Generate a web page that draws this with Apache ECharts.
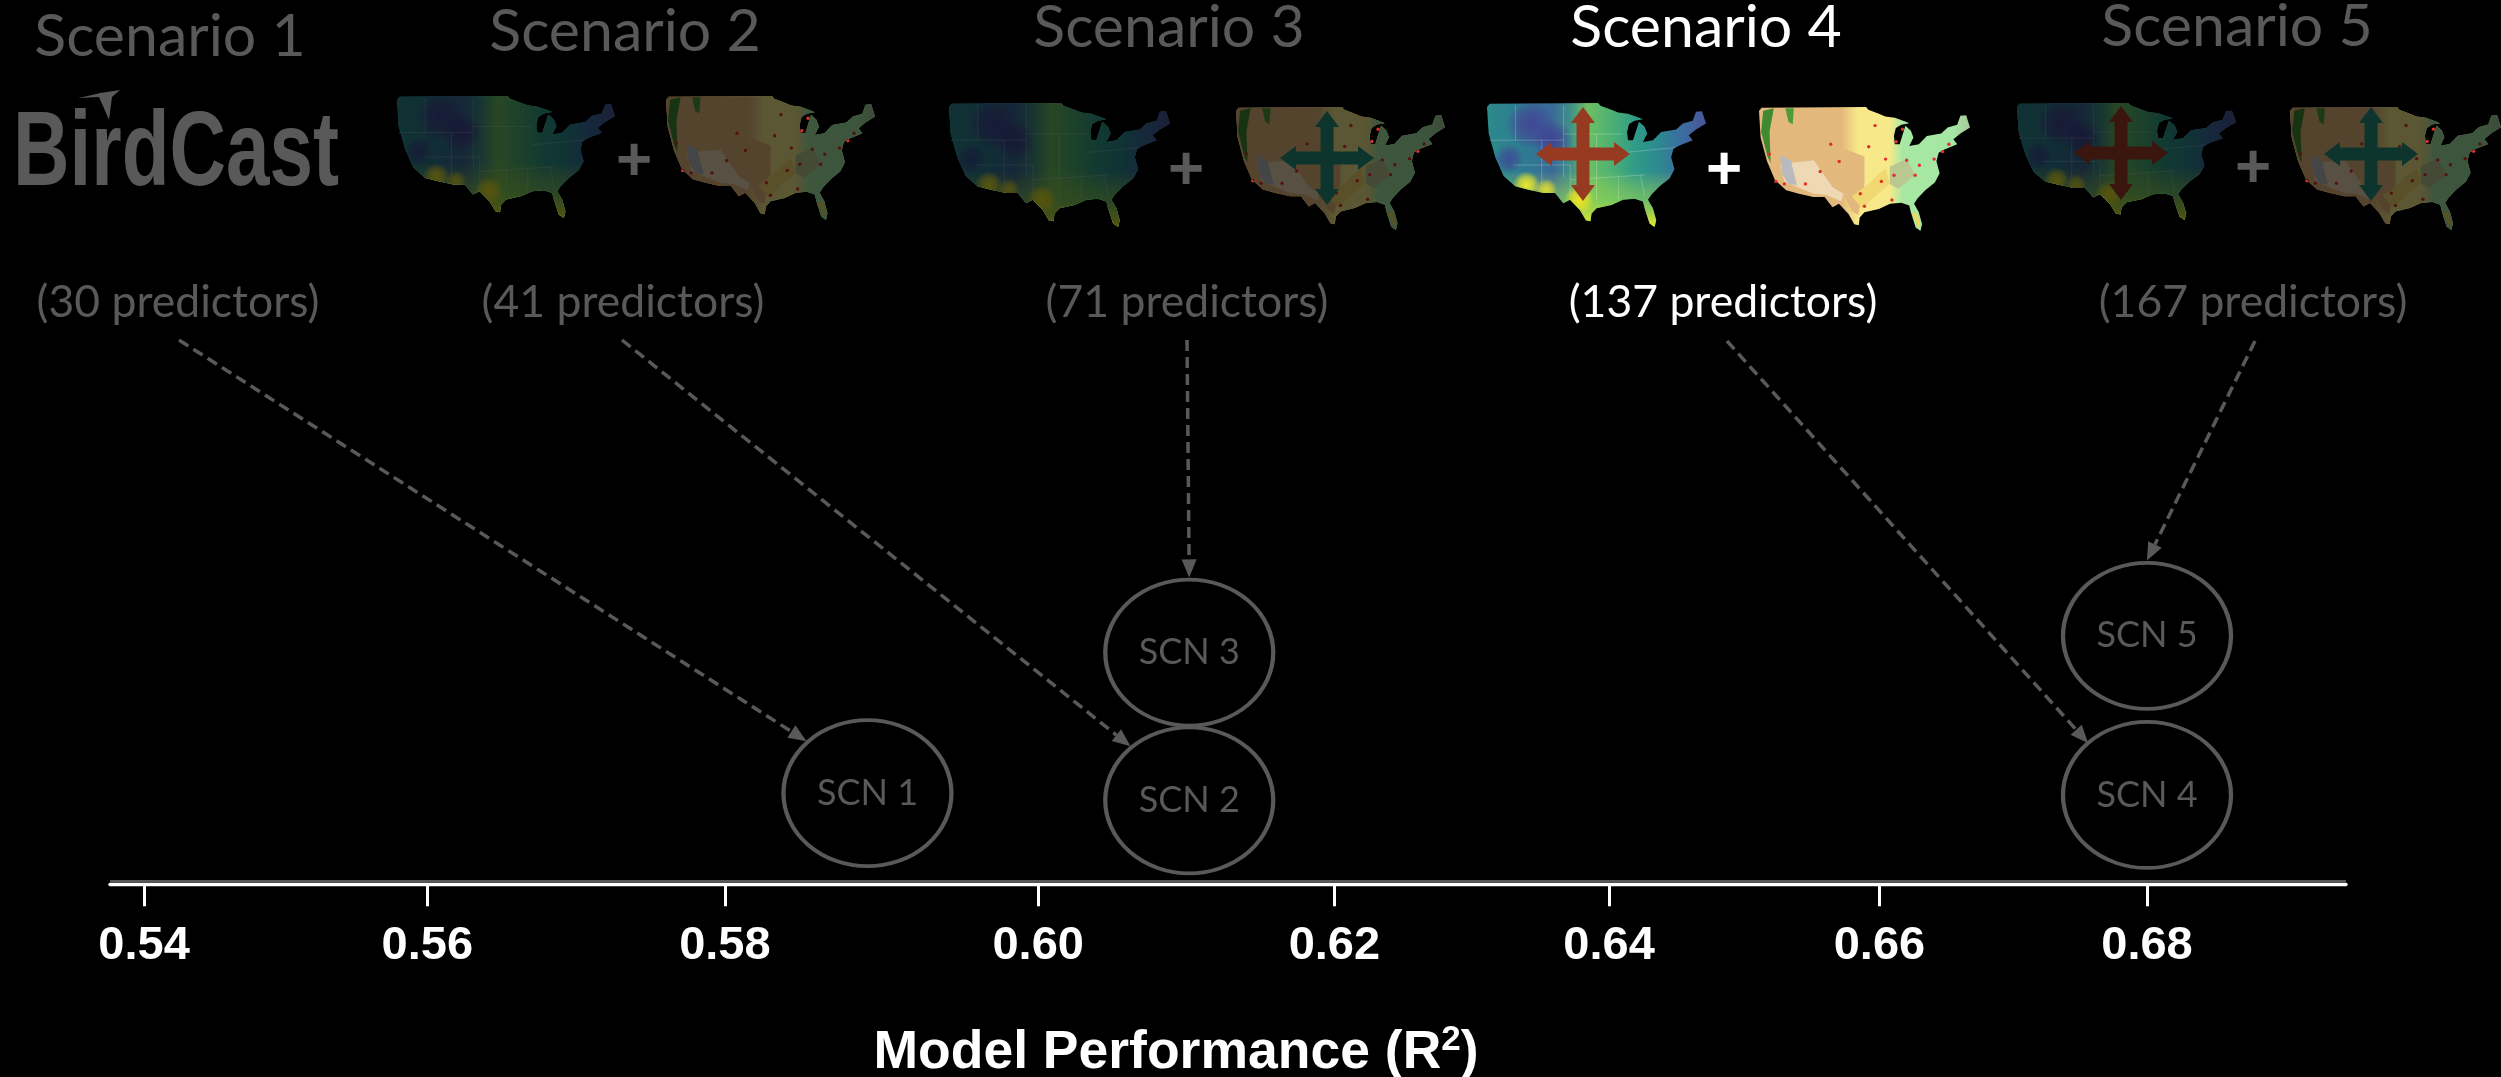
<!DOCTYPE html>
<html><head><meta charset="utf-8">
<style>html,body{margin:0;padding:0;background:#000}#c{width:2501px;height:1077px}</style>
<script src="https://cdn.jsdelivr.net/npm/echarts@6/dist/echarts.min.js"></script>
</head><body><div id="c"></div>
<script>
// ---------- data ----------
const tickValues = [0.54,0.56,0.58,0.60,0.62,0.64,0.66,0.68];
const tickLabels = ['0.54','0.56','0.58','0.60','0.62','0.64','0.66','0.68'];
// the reference's ticks are hand-placed: where each tick sits on an even axis
const tickDrawnAt = [0.54,0.5598,0.5806,0.6025,0.6232,0.6424,0.6613,0.68];
const scenarioNames = ['SCN 1','SCN 2','SCN 3','SCN 4','SCN 5'];
const scenarioR2 = [0.5891,0.6102,0.6102,0.680,0.680];
const scenarioStack = [10.3,9.5,26.2,10.1,28.1];
const scenarioTitles = ['Scenario 1','Scenario 2','Scenario 3','Scenario 4','Scenario 5'];
const predictorLabels = ['(30 predictors)','(41 predictors)','(71 predictors)','(137 predictors)','(167 predictors)'];
const highlighted = 3;
const GREY = '#595959';

// ---------- helpers ----------
function warp(v){
  for(let i=0;i<tickValues.length-1;i++){
    if(v<=tickValues[i+1]){
      const t=(v-tickValues[i])/(tickValues[i+1]-tickValues[i]);
      return tickDrawnAt[i]+t*(tickDrawnAt[i+1]-tickDrawnAt[i]);
    }
  }
  return tickDrawnAt[tickDrawnAt.length-1];
}
const outline=[[20,52],[28,42],[355,40],[362,48],[395,60],[415,68],[445,72],[475,82],[490,88],[465,92],[448,102],[442,125],[445,150],[460,150],[468,125],[478,95],[495,110],[503,130],[490,155],[520,150],[545,125],[590,118],[610,100],[640,92],[650,66],[668,64],[680,100],[650,118],[628,135],[640,150],[600,165],[582,175],[575,200],[585,235],[570,262],[540,285],[515,310],[505,325],[520,350],[530,385],[525,405],[510,395],[495,350],[490,330],[465,322],[430,325],[395,340],[350,350],[335,365],[332,388],[318,385],[300,355],[270,325],[250,335],[225,305],[190,305],[145,295],[105,285],[70,255],[45,200],[25,130]];
const nOutline=outline.map(p=>[(p[0]-20)/660,(p[1]-40)/365]);
const scale=(pts,x0,y0,x1,y1)=>pts.map(p=>[x0+p[0]*(x1-x0),y0+p[1]*(y1-y0)]);
const lin=(x,y,x2,y2,stops)=>({type:'linear',x,y,x2,y2,colorStops:stops.map(s=>({offset:s[0],color:s[1]}))});
const rad=(x,y,r,c)=>({type:'radial',x,y,r,colorStops:[{offset:0,color:c},{offset:.55,color:c.replace(/[\d.]+\)$/,m=>parseFloat(m)*.65+')')},{offset:1,color:c.replace(/[\d.]+\)$/,'0)')}]});
const climateLayers=[
  lin(0,0,1,0,[[0,'#2c8a8c'],[.18,'#2f7a92'],[.3,'#3a6a98'],[.38,'#3f8f88'],[.46,'#6dbf62'],[.56,'#4fb272'],[.68,'#2f9a88'],[.78,'#2d8a90'],[.88,'#3a6fa0'],[1,'#4a5599']]),
  lin(0,0,0,1,[[0,'rgba(200,225,60,0)'],[.55,'rgba(200,225,60,0)'],[.78,'rgba(150,215,80,.6)'],[1,'rgba(235,230,40,1)']]),
  rad(.2,.17,.2,'rgba(70,60,150,.8)'),
  rad(.3,.3,.16,'rgba(65,55,145,.75)'),
  rad(.1,.45,.12,'rgba(65,60,150,.7)'),
  rad(.18,.66,.11,'rgba(245,235,40,.95)'),
  rad(.27,.7,.09,'rgba(240,230,40,.85)'),
  rad(.42,.78,.12,'rgba(245,230,30,.95)')
];
const stateLines=[[[.13,.02],[.13,.3]],[[.35,.02],[.35,.6]],[[.01,.3],[.35,.3]],[[.35,.25],[.62,.25]],[[.12,.5],[.38,.5]],[[.25,.3],[.25,.65]],[[.38,.5],[.38,.75]],[[.5,.25],[.5,.78]],[[.38,.62],[.72,.58]],[[.62,.4],[.86,.36]],[[.7,.58],[.72,.75]],[[.6,.6],[.6,.78]]];
const landBase=lin(0,0,1,0,[[0,'#e3b87c'],[.39,'#e3b87c'],[.47,'#f7e98a'],[.62,'#f7e98a'],[.68,'#a8e8a4'],[.92,'#a4e6a4'],[1,'#a8c89a']]);
// patches, in the 0..1 box of a map
const landPatches=[
  [[[.41,.34],[.5,.4],[.5,.62],[.47,.87],[.44,.84],[.4,.7],[.37,.5]],'#e3b87c'],
  [[[.02,.03],[.07,.01],[.05,.2],[.055,.45],[.04,.4],[.01,.2]],'#3f8a30'],
  [[[.125,.01],[.165,.01],[.16,.14],[.14,.12]],'#4f9a3a'],
  [[[.1,.46],[.26,.43],[.35,.65],[.4,.7],[.39,.76],[.32,.71],[.26,.7],[.2,.66],[.12,.6]],'#efd8b4'],
  [[[.1,.39],[.15,.43],[.18,.63],[.14,.62],[.11,.54]],'#b8bac0'],
  [[[.44,.72],[.52,.62],[.56,.55],[.6,.5],[.62,.62],[.55,.72],[.49,.82]],'#f2d873'],
  [[[.725,.86],[.75,.85],[.765,.96],[.755,.97]],'#f0d860'],
  [[[.62,.48],[.7,.42],[.74,.55],[.66,.66],[.62,.62]],'#b8c890']
];
const cityDots=[[.05,.38],[.08,.6],[.12,.62],[.22,.62],[.29,.52],[.34,.3],[.48,.7],[.5,.8],[.63,.75],[.6,.42],[.64,.55],[.65,.28],[.7,.43],[.74,.55],[.83,.42],[.87,.36],[.9,.3],[.55,.15],[.68,.18],[.76,.47],[.52,.32],[.58,.6],[.38,.44]];
function poly(points,fill){return {type:'polygon',silent:true,z:5,shape:{points},style:{fill}};}
function mapEls(kind,x0,y0,x1,y1,dim){
  const pts=scale(nOutline,x0,y0,x1,y1), els=[];
  if(kind==='c'){
    climateLayers.forEach(f=>els.push(poly(pts,f)));
    stateLines.forEach(l=>{const s=scale(l,x0,y0,x1,y1);els.push({type:'line',silent:true,z:5,shape:{x1:s[0][0],y1:s[0][1],x2:s[1][0],y2:s[1][1]},style:{stroke:'rgba(255,255,255,.22)',lineWidth:1}});});
  } else {
    els.push(poly(pts,landBase));
    landPatches.forEach(p=>els.push(poly(scale(p[0],x0,y0,x1,y1),p[1])));
    cityDots.forEach(d=>els.push({type:'circle',silent:true,z:5,shape:{cx:x0+d[0]*(x1-x0),cy:y0+d[1]*(y1-y0),r:1.7},style:{fill:'#e0302a'}}));
  }
  if(dim) els.push(poly(pts,'rgba(0,0,0,.63)'));
  return els;
}
function cross(cx,cy,color){
  const L=47,s=6.5,H=12,N=16;
  const p=[[cx,cy-L],[cx+H,cy-L+N],[cx+s,cy-L+N],[cx+s,cy-s],[cx+L-N,cy-s],[cx+L-N,cy-H],[cx+L,cy],[cx+L-N,cy+H],[cx+L-N,cy+s],[cx+s,cy+s],[cx+s,cy+L-N],[cx+H,cy+L-N],[cx,cy+L],[cx-H,cy+L-N],[cx-s,cy+L-N],[cx-s,cy+s],[cx-L+N,cy+s],[cx-L+N,cy+H],[cx-L,cy],[cx-L+N,cy-H],[cx-L+N,cy-s],[cx-s,cy-s],[cx-s,cy-L+N],[cx-H,cy-L+N]];
  return {type:'polygon',silent:true,z:6,shape:{points:p},style:{fill:color}};
}
function txt(s,cx,cy,size,color,font,weight,sx){
  return {type:'text',silent:true,z:7,x:cx,y:cy,scaleX:sx||1,style:{text:s,fill:color,font:(weight||'normal')+' '+size+'px '+font,textAlign:'center',textVerticalAlign:'middle'}};
}

// ---------- layout (pixels) ----------
const titleAt=[[170,37],[625,32],[1169,28],[1706,28],[2237,27]];
const predAt=[[178,303],[623,303],[1187,303],[1723,303],[2253,303]];
const plusAt=[[634,163],[1186,172],[1724,172],[2253,170]];
const arrowFrom=[[179,340],[622,340],[1187,340],[1727,341],[2255,341]];
const arrowEdge=[[-.725,-.712],[-.70,-.74],[0,-1.03],[-.70,-.71],[0,-1.03]];
const RX=84,RY=73;
const TITLE_FONT='Lato',AX_FONT='"Liberation Sans"';

const g=[];
g.push(...mapEls('c',397,96,615,218,true), ...mapEls('l',666,96,875,220,true));
g.push(...mapEls('c',949,103,1170,227,true), ...mapEls('l',1236,107,1445,230,true));
g.push(...mapEls('c',1487,103,1706,227,false), ...mapEls('l',1759,107,1970,231,false));
g.push(...mapEls('c',2017,103,2236,220,true), ...mapEls('l',2290,107,2501,230,true));
g.push(cross(1327,158,'#0e352d'),cross(1583,154,'#963a22'),cross(2121,153,'#3a160e'),cross(2371,154,'#0e352d'));
plusAt.forEach((p,i)=>g.push(txt('+',p[0],p[1],62,i===2?'#fff':GREY,AX_FONT,'bold')));
scenarioTitles.forEach((s,i)=>g.push(txt(s,titleAt[i][0],titleAt[i][1],59,i===highlighted?'#fff':GREY,TITLE_FONT)));
predictorLabels.forEach((s,i)=>g.push(txt(s,predAt[i][0],predAt[i][1],44.5,i===highlighted?'#fff':GREY,TITLE_FONT)));
// BirdCast logo
g.push(txt('BirdCast',176,156,105,GREY,AX_FONT,'bold',.745));
g.push({type:'polygon',silent:true,z:7,shape:{points:[[78,98],[92,95],[100,93],[120,90],[112,97],[109,120],[103,106],[99,97]]},style:{fill:GREY}});
// second, darker rule just above the axis
g.push({type:'rect',silent:true,z:1,shape:{x:110,y:880,width:2236,height:2.7},style:{fill:GREY}});

const chart=echarts.init(document.getElementById('c'),null,{renderer:'canvas'});
chart.setOption({
  animation:false,
  backgroundColor:'#000',
  grid:{left:110,width:2236,top:0,height:884.3,containLabel:false,outerBoundsMode:'none'},
  xAxis:{
    type:'value',min:0.53762,max:0.69391,
    splitLine:{show:false},
    axisLine:{show:true,onZero:false,lineStyle:{color:'#fff',width:3.4}},
    axisTick:{show:true,length:22,customValues:tickDrawnAt,lineStyle:{color:'#fff',width:3}},
    axisLabel:{show:true,customValues:tickDrawnAt,margin:38,color:'#fff',fontFamily:AX_FONT,fontWeight:'bold',fontSize:47,
      formatter:v=>{let b=0;tickDrawnAt.forEach((d,i)=>{if(Math.abs(d-v)<Math.abs(tickDrawnAt[b]-v))b=i;});return tickLabels[b];}},
    name:'{a|Model Performance (R}{s|2}{a|)}',
    nameLocation:'middle',nameGap:139,
    nameTextStyle:{padding:[0,104,0,0],rich:{
      a:{color:'#fff',fontFamily:AX_FONT,fontWeight:'bold',fontSize:53.5},
      s:{color:'#fff',fontFamily:AX_FONT,fontWeight:'bold',fontSize:35,verticalAlign:'top',padding:[0,0,24,0]}
    }}
  },
  yAxis:{type:'value',min:0,max:100,show:false},
  series:[
    {type:'scatter',z:3,
     symbol:'path://M0,-1A1,1 0 1 1 0,1A1,1 0 1 1 0,-1Z',symbolKeepAspect:false,symbolSize:[RX*2,RY*2],
     itemStyle:{color:'rgba(0,0,0,0)',borderColor:GREY,borderWidth:4,opacity:1},
     label:{show:true,position:'inside',formatter:p=>scenarioNames[p.dataIndex],color:GREY,fontFamily:TITLE_FONT,fontSize:36},
     data:scenarioR2.map((v,i)=>[warp(v),scenarioStack[i]])},
    {type:'custom',z:2,silent:true,clip:false,
     data:scenarioR2.map((v,i)=>[warp(v),scenarioStack[i]]),
     renderItem:(p,api)=>{
       const i=p.dataIndex,c=api.coord([api.value(0),api.value(1)]);
       const e=arrowEdge[i],tip=[c[0]+e[0]*RX,c[1]+e[1]*RY],s=arrowFrom[i];
       const dx=tip[0]-s[0],dy=tip[1]-s[1],n=Math.hypot(dx,dy),ux=dx/n,uy=dy/n,H=18,W=7.5;
       const b=[tip[0]-ux*H,tip[1]-uy*H];
       return {type:'group',children:[
         {type:'line',shape:{x1:s[0],y1:s[1],x2:b[0],y2:b[1]},style:{stroke:GREY,lineWidth:3.5,lineDash:[11,6],fill:null}},
         {type:'polygon',shape:{points:[tip,[b[0]-uy*W,b[1]+ux*W],[b[0]+uy*W,b[1]-ux*W]]},style:{fill:GREY}}
       ]};
     }}
  ],
  graphic:{elements:g}
});
</script></body></html>
